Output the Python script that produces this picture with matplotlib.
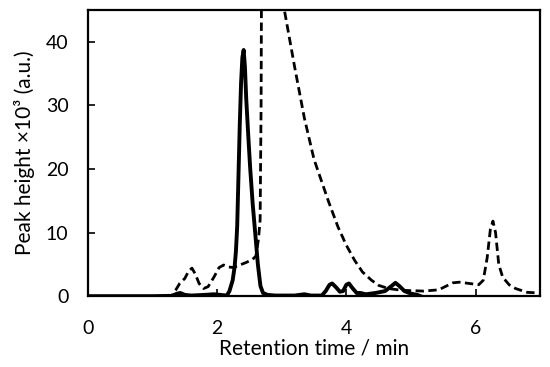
import matplotlib
matplotlib.use("Agg")
import matplotlib.pyplot as plt

# solid trace (retention time in min, peak height x10^3)
solid_t = [0.0, 1.0, 1.30, 1.38, 1.43, 1.50, 1.60, 1.80, 1.95, 2.05, 2.15, 2.19, 2.24, 2.27,
           2.29, 2.31, 2.33, 2.35, 2.37, 2.39, 2.41, 2.43, 2.45, 2.48, 2.51, 2.55, 2.59, 2.63,
           2.67, 2.71, 2.78, 2.90, 3.20, 3.35, 3.45, 3.62, 3.68, 3.74, 3.78, 3.84, 3.90, 3.95,
           4.00, 4.04, 4.10, 4.16, 4.22, 4.30, 4.45, 4.60, 4.70, 4.76, 4.82, 4.90, 5.00, 5.10, 5.15]
solid_h = [0.0, 0.0, 0.05, 0.4, 0.5, 0.2, 0.1, 0.2, 0.3, 0.2, 0.1, 0.8, 2.5, 4.6,
           7.0, 11.0, 19.0, 27.0, 33.5, 37.5, 38.7, 36.0, 31.0, 25.5, 20.3, 14.5, 9.8, 5.0,
           1.6, 0.5, 0.2, 0.1, 0.1, 0.3, 0.1, 0.1, 0.8, 1.8, 2.0, 1.4, 0.7, 0.8,
           1.8, 2.0, 1.2, 0.5, 0.5, 0.3, 0.5, 0.8, 1.6, 2.1, 1.6, 0.8, 0.4, 0.2, 0.0]

# dashed trace
dash_t = [1.20, 1.30, 1.36, 1.42, 1.50, 1.56, 1.61, 1.66, 1.72, 1.79, 1.86, 1.95, 2.03, 2.10,
          2.17, 2.25, 2.35, 2.45, 2.55, 2.60, 2.64, 2.665, 2.68, 2.69, 2.85, 3.00, 3.04, 3.20,
          3.35, 3.50, 3.72, 3.87, 4.00, 4.13, 4.25, 4.39, 4.50, 4.65, 4.80, 4.91, 5.20, 5.43,
          5.55, 5.65, 5.75, 5.90, 6.05, 6.12, 6.18, 6.23, 6.27, 6.31, 6.36, 6.42, 6.52, 6.62,
          6.80, 7.00]
dash_h = [0.0, 0.1, 1.0, 2.0, 2.8, 4.0, 4.4, 3.5, 2.0, 1.2, 1.5, 3.0, 4.5, 4.9,
          4.6, 4.5, 4.9, 5.3, 5.8, 6.3, 9.0, 12.0, 30.0, 60.0, 75.0, 52.0, 45.0, 36.0,
          28.0, 21.5, 15.0, 10.9, 8.0, 5.6, 3.8, 2.5, 1.7, 1.2, 1.0, 0.9, 0.8, 1.0,
          1.6, 2.1, 2.2, 2.0, 1.8, 2.5, 6.0, 10.5, 11.8, 10.0, 5.0, 3.0, 1.8, 1.2,
          0.6, 0.5]

x_ticks = [0, 2, 4, 6]
y_ticks = [0, 10, 20, 30, 40]

plt.rcParams['font.family'] = ['Lato', 'DejaVu Sans']

fig = plt.figure(figsize=(5.5, 3.67), dpi=100)
ax = fig.add_axes([0.16, 0.193, 0.822, 0.78])

ax.plot(dash_t, dash_h, color='black', lw=2.0, dashes=(3.0, 1.6))
ax.plot(solid_t, solid_h, color='black', lw=2.8, solid_joinstyle='round')

ax.set_xlim(0, 7)
ax.set_ylim(0, 45)
ax.set_xticks(x_ticks)
ax.set_yticks(y_ticks)
ax.tick_params(direction='in', length=5, width=1.2, labelsize=14, colors='black')
ax.tick_params(axis='y', pad=14)
ax.tick_params(axis='x', pad=17)
for s in ax.spines.values():
    s.set_linewidth(1.6)

ax.set_xlabel("Retention time / min", fontsize=15, labelpad=1)
ax.set_ylabel("Peak height \u00d710\u00b3 (a.u.)", fontsize=15, labelpad=8)

fig.savefig("out.png", dpi=100)
